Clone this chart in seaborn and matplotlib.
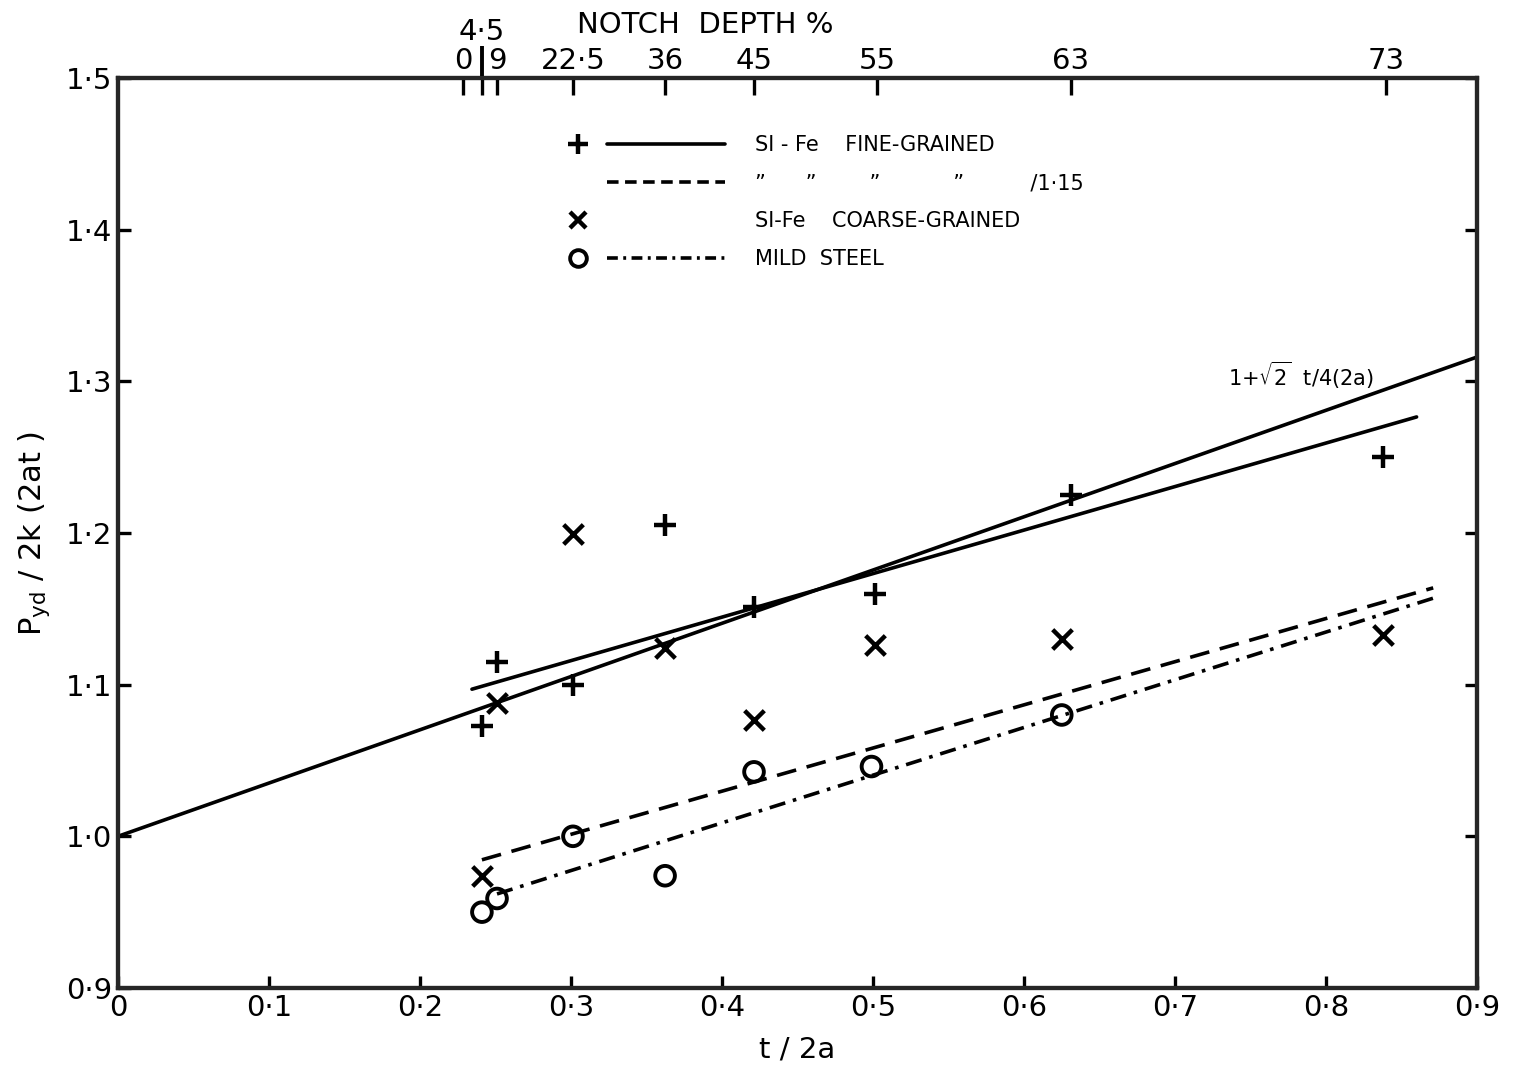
import matplotlib
matplotlib.use("Agg")
import matplotlib.pyplot as plt
import seaborn as sns
from matplotlib.lines import Line2D
from matplotlib.legend_handler import HandlerBase

# ---------------- data ----------------
notch_pos = [0.2285, 0.241, 0.251, 0.3013, 0.3623, 0.4212, 0.5026, 0.631, 0.8397]
notch_labels = ["0", "", "9", "22·5", "36", "45", "55", "63", "73"]
notch_extra_pos = [0.241]
notch_extra_labels = ["4·5"]

xticks = [0.0, 0.1, 0.2, 0.3, 0.4, 0.5, 0.6, 0.7, 0.8, 0.9]
xtick_labels = ["0", "0·1", "0·2", "0·3", "0·4", "0·5", "0·6", "0·7", "0·8", "0·9"]
yticks = [0.9, 1.0, 1.1, 1.2, 1.3, 1.4, 1.5]
ytick_labels = ["0·9", "1·0", "1·1", "1·2", "1·3", "1·4", "1·5"]

fine_x = [0.241, 0.251, 0.3013, 0.3623, 0.4212, 0.501, 0.631, 0.838]
fine_y = [1.073, 1.115, 1.100, 1.205, 1.151, 1.160, 1.225, 1.250]

coarse_x = [0.241, 0.251, 0.3013, 0.3623, 0.4212, 0.501, 0.625, 0.838]
coarse_y = [0.974, 1.088, 1.199, 1.124, 1.077, 1.126, 1.130, 1.133]

mild_x = [0.241, 0.251, 0.3013, 0.3623, 0.4212, 0.499, 0.625]
mild_y = [0.950, 0.959, 1.000, 0.974, 1.0425, 1.046, 1.080]

theory_x = [0.0, 0.9]
theory_y = [1.0, 1.316]
fine_fit_x = [0.2344, 0.860]
fine_fit_y = [1.097, 1.2765]
fine_red_x = [0.241, 0.871]
fine_red_y = [0.9845, 1.1638]
mild_fit_x = [0.251, 0.871]
mild_fit_y = [0.962, 1.157]

legend_labels = [
    "SI - Fe    FINE-GRAINED",
    "\u201d      \u201d        \u201d           \u201d          /1·15",
    "SI-Fe    COARSE-GRAINED",
    "MILD  STEEL",
]
theory_label = r"1+$\sqrt{2}$  t/4(2a)"

# ---------------- style ----------------
sns.set_theme(style="white")
plt.rcParams["font.family"] = ["DejaVu Sans"]
plt.rcParams["mathtext.fontset"] = "dejavusans"
plt.rcParams["text.color"] = "black"
plt.rcParams["axes.labelcolor"] = "black"
plt.rcParams["xtick.color"] = "black"
plt.rcParams["ytick.color"] = "black"

fig = plt.figure(figsize=(15.13, 10.74), dpi=100)
ax = fig.add_axes([0.078, 0.0801, 0.8982, 0.8473])

LW = 2.6
for s in ax.spines.values():
    s.set_linewidth(3.0)
    s.set_color("black")

# lines
sns.lineplot(x=theory_x, y=theory_y, ax=ax, color="black", lw=LW, estimator=None, sort=False)
sns.lineplot(x=fine_fit_x, y=fine_fit_y, ax=ax, color="black", lw=LW, estimator=None, sort=False)
sns.lineplot(x=fine_red_x, y=fine_red_y, ax=ax, color="black", lw=LW, estimator=None,
             sort=False, linestyle=(0, (5.5, 3)))
sns.lineplot(x=mild_fit_x, y=mild_fit_y, ax=ax, color="black", lw=LW, estimator=None,
             sort=False, linestyle=(0, (4.5, 2.2, 1, 2.2)))

# points
sns.scatterplot(x=fine_x, y=fine_y, ax=ax, marker="+", s=260, color="black", linewidth=3.2)
sns.scatterplot(x=coarse_x, y=coarse_y, ax=ax, marker="x", s=200, color="black", linewidth=3.2)
sns.scatterplot(x=mild_x, y=mild_y, ax=ax, marker="o", s=200, facecolor="none",
                edgecolor="black", linewidth=2.8)

ax.set_xlim(0, 0.9)
ax.set_ylim(0.9, 1.5)
ax.set_xticks(xticks, xtick_labels)
ax.set_yticks(yticks, ytick_labels)
ax.tick_params(axis="both", direction="in", length=9, width=2.4, labelsize=21,
               colors="black", right=True, left=True, bottom=True, top=False)
ax.tick_params(axis="y", pad=4)
ax.tick_params(axis="x", pad=4)
ax.set_xlabel("t / 2a", fontsize=21, color="black", labelpad=10)
ax.set_ylabel(r"P$_{\mathregular{yd}}$ / 2k (2at )", fontsize=22, color="black", labelpad=10)
ax.grid(False)

# top axis: notch depth
ax2 = ax.twiny()
ax2.set_xlim(ax.get_xlim())
ax2.set_xticks(notch_pos, notch_labels)
ax2.tick_params(axis="x", direction="in", length=12, width=2.4, labelsize=21,
                colors="black", pad=2)
for s in ax2.spines.values():
    s.set_linewidth(3.0)
ax2.set_xlabel("NOTCH  DEPTH %", fontsize=21, color="black")
ax2.xaxis.set_label_coords(0.432, 1.043)
ax2.xaxis.label.set_va("bottom")
ax2.grid(False)

# the raised 4.5 label with its long bar
ax3 = ax.secondary_xaxis("top")
ax3.set_xticks(notch_extra_pos, notch_extra_labels)
ax3.tick_params(axis="x", direction="out", length=23, width=2.8, labelsize=21,
                colors="black", pad=0)
ax3.spines["top"].set_visible(False)

# theory annotation
ax.text(0.735, 1.304, theory_label, fontsize=15, color="black", ha="left", va="center")

# ---------------- legend ----------------
class Entry:
    def __init__(self, marker=None, mkw=None, ls=None):
        self.marker = marker
        self.mkw = mkw or {}
        self.ls = ls


class EntryHandler(HandlerBase):
    def create_artists(self, legend, h, xdescent, ydescent, width, height, fontsize, trans):
        x0 = -xdescent
        y = height / 2.0 - ydescent
        arts = []
        if h.marker is not None:
            m = Line2D([x0 + 0.06 * width], [y], marker=h.marker, ls="none", color="black",
                       **h.mkw)
            m.set_transform(trans)
            arts.append(m)
        if h.ls is not None:
            ln = Line2D([x0 + 0.24 * width, x0 + 0.97 * width], [y, y], color="black",
                        lw=LW, ls=h.ls)
            ln.set_transform(trans)
            arts.append(ln)
        return arts


handles = [
    Entry("+", dict(ms=14, mew=3.2), "-"),
    Entry(None, None, (0, (3.2, 1.8))),
    Entry("x", dict(ms=12, mew=3.2), None),
    Entry("o", dict(ms=12, mew=2.8, mfc="none"), (0, (3, 1.5, 0.8, 1.5))),
]
leg = ax.legend(handles, legend_labels, handler_map={Entry: EntryHandler()},
                loc="upper left", bbox_to_anchor=(0.3311, 0.937), frameon=False,
                fontsize=15, handlelength=7.76, handletextpad=1.23, labelspacing=0.86,
                borderpad=0, borderaxespad=0)
for t in leg.get_texts():
    t.set_color("black")

fig.savefig("out.png", dpi=100)
